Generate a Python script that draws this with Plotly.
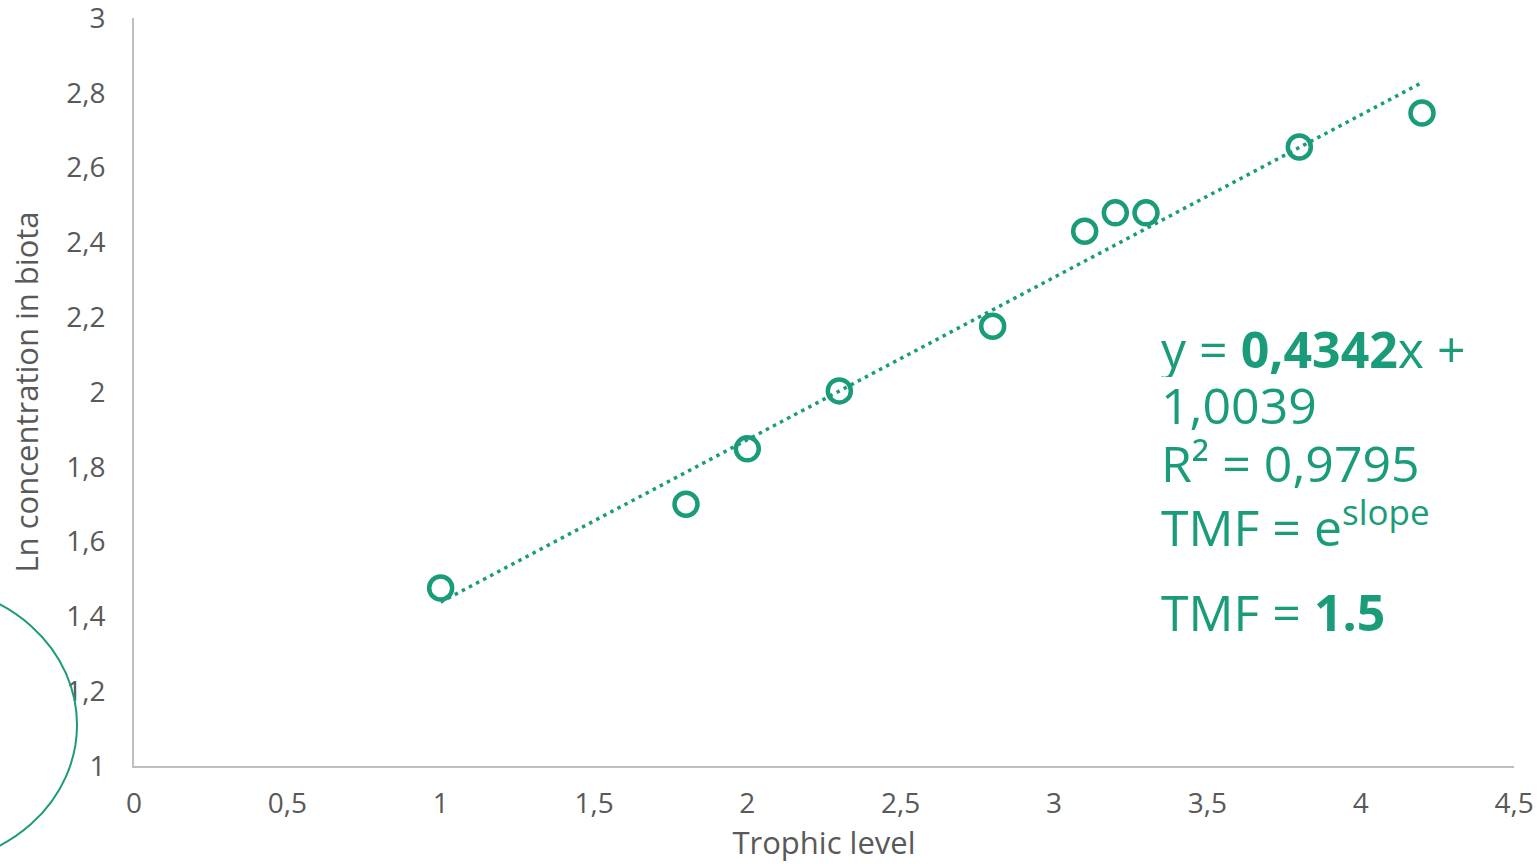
import plotly.graph_objects as go

# Data
trophic_level = [1.0, 1.8, 2.0, 2.3, 2.8, 3.1, 3.2, 3.3, 3.8, 4.2]
ln_conc = [1.476, 1.70, 1.848, 2.003, 2.176, 2.43, 2.479, 2.479, 2.655, 2.746]

slope = 0.4342
intercept = 1.0039
trend_x = [1.0, 4.2]

x_tickvals = [0, 0.5, 1, 1.5, 2, 2.5, 3, 3.5, 4, 4.5]
x_ticktext = ["0", "0,5", "1", "1,5", "2", "2,5", "3", "3,5", "4", "4,5"]
y_tickvals = [1, 1.2, 1.4, 1.6, 1.8, 2, 2.2, 2.4, 2.6, 2.8, 3]
y_ticktext = ["1", "1,2", "1,4", "1,6", "1,8", "2", "2,2", "2,4", "2,6", "2,8", "3"]

eq_lines = ["y = <b>0,4342</b>x +", "1,0039", "R² = 0,9795", "TMF = e<sup>slope</sup>", "TMF = <b>1.5</b>"]

GREEN = "#1a9c7a"
GREY_TXT = "#595959"
FONT = "Open Sans"

trend_y = [slope * x + intercept for x in trend_x]

fig = go.Figure()
fig.add_trace(go.Scatter(
    x=trend_x, y=trend_y, mode="lines",
    line=dict(color=GREEN, width=3.5, dash="3.5px,4.5px"),
    hoverinfo="skip", showlegend=False,
))
fig.add_trace(go.Scatter(
    x=trophic_level, y=ln_conc, mode="markers",
    marker=dict(symbol="circle-open", size=23, color=GREEN,
                line=dict(color=GREEN, width=4.5)),
    showlegend=False,
))

fig.update_layout(
    width=1539, height=864,
    margin=dict(l=134, r=25, t=18, b=98),
    paper_bgcolor="white", plot_bgcolor="white",
    font=dict(family=FONT, color=GREY_TXT),
    separators=", ",
    xaxis=dict(
        range=[0, 4.5], tickvals=x_tickvals, ticktext=x_ticktext,
        showgrid=False, zeroline=False, showline=True, automargin=False,
        linecolor="#bfbfbf", linewidth=2, ticks="", ticklabeloverflow="allow",
        tickfont=dict(size=28, color=GREY_TXT, family=FONT),
        ticklabelstandoff=11,
        title=dict(text="Trophic level", font=dict(size=31, color=GREY_TXT, family=FONT), standoff=10),
    ),
    yaxis=dict(
        range=[1, 3], tickvals=y_tickvals, ticktext=y_ticktext,
        showgrid=False, zeroline=False, showline=True, automargin=False,
        linecolor="#bfbfbf", linewidth=2, ticks="", ticklabeloverflow="allow",
        tickfont=dict(size=28, color=GREY_TXT, family=FONT),
        ticklabelstandoff=21,
        title=dict(text="Ln concentration in biota", font=dict(size=31, color=GREY_TXT, family=FONT), standoff=18),
    ),
)

# equation text, one annotation per line (pixel centres from the reference)
line_px = [349, 405, 463, 524, 612]
for txt, py in zip(eq_lines, line_px):
    fig.add_annotation(
        xref="paper", yref="paper", x=(1160 - 134) / 1380, y=(766 - py) / 748,
        xanchor="left", yanchor="middle", align="left", valign="middle",
        showarrow=False, height=56, borderpad=0,
        text=txt, font=dict(size=50, color=GREEN, family=FONT),
    )

# decorative ellipse at bottom left
fig.add_shape(
    type="circle", xref="paper", yref="paper",
    x0=-0.2688, x1=-0.0413, y0=-0.1324, y1=0.242,
    line=dict(color=GREEN, width=2), layer="above",
)

fig.write_html(
    "out.html",
    config={"displayModeBar": False},
    post_script="document.body.style.margin='0';document.body.style.overflow='hidden';",
)
